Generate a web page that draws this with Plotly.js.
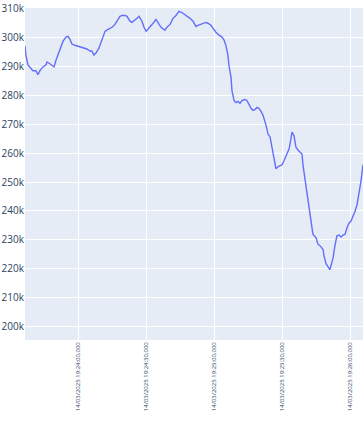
<!DOCTYPE html>
<html>
<head>
<meta charset="utf-8">
<script src="https://cdn.plot.ly/plotly-3.0.1.min.js"></script>
<style>html,body{margin:0;padding:0;background:#fff;}#chart{width:363px;height:424px;}</style>
</head>
<body>
<div id="chart"></div>
<script>
// seconds relative to 14/03/2025 19:24:00
const baseTime = "2025-03-14T19:24:00";
const offsetsSec = [-23.5,-23.1,-22.2,-21.3,-20.0,-18.7,-17.8,-16.9,-15.6,-14.2,-13.8,-12.5,-10.7,-9.8,-9.0,-7.6,-6.7,-5.4,-4.5,-3.7,-2.8,-1.5,-0.1,1.2,2.5,3.8,5.2,6.0,6.9,7.8,9.1,10.0,10.9,11.8,13.1,14.9,16.2,17.5,18.4,19.3,20.6,21.5,22.8,23.7,25.0,25.9,26.8,27.2,28.1,29.0,29.9,30.7,31.6,33.0,34.3,35.2,36.5,38.2,39.1,40.5,41.8,43.1,44.4,45.7,47.1,48.4,49.3,50.6,51.9,52.8,54.1,55.0,56.3,57.2,58.5,59.4,60.7,62.1,63.4,64.3,65.2,66.0,66.5,67.4,67.8,68.7,69.6,70.5,71.3,72.2,73.5,74.4,75.3,76.2,77.1,78.0,78.8,79.7,80.6,81.5,82.8,83.7,84.6,85.5,86.3,87.2,88.1,89.0,89.9,90.7,92.1,93.0,93.8,94.3,95.2,96.0,96.9,97.8,98.7,99.1,100.0,100.9,101.3,102.2,103.1,103.5,104.9,105.7,107.1,108.0,108.4,109.3,111.0,111.5,112.4,113.2,114.1,115.0,115.9,116.8,117.7,118.5,119.4,120.3,121.2,122.1,123.0,123.8,124.7,125.6];
const values = [297000,293900,290500,289500,288500,288500,287100,288500,289800,290500,291500,290900,289800,292200,293900,297000,298700,300100,300400,299400,297700,297300,297000,296700,296300,296000,295300,295300,293900,294600,296300,298400,300400,302100,302800,303500,304500,306200,307300,307600,307600,307300,305600,305200,305900,306600,307300,306900,305600,303500,302100,302800,303500,304900,306200,304900,303500,302500,303500,304500,306600,307600,309000,308600,307900,307300,306600,305600,303800,304200,304500,304900,305200,304900,304200,303200,301800,300800,300100,299100,297000,293900,290200,286100,281600,278200,277500,277900,277200,278200,278500,278200,276800,275500,274800,275100,275800,275500,274400,273100,269700,266600,265600,262100,258700,254600,255300,255600,256000,257300,259700,261500,264900,267300,265900,262100,261100,260400,259700,256000,250900,246100,242600,238900,234100,232000,230700,228600,227600,226600,224500,221800,219700,221100,223800,227900,231400,231700,231000,231700,232000,234100,235800,236500,238200,239900,242300,245700,250200,256000];
const yRange = [195400, 310170];

function pad(n, w){ return String(n).padStart(w || 2, "0"); }
const base = new Date(baseTime + "Z").getTime();
const times = offsetsSec.map(s => {
  const d = new Date(base + Math.round(s * 1000));
  return d.getUTCFullYear() + "-" + pad(d.getUTCMonth() + 1) + "-" + pad(d.getUTCDate()) + " " +
    pad(d.getUTCHours()) + ":" + pad(d.getUTCMinutes()) + ":" + pad(d.getUTCSeconds()) + "." + pad(d.getUTCMilliseconds(), 3);
});

const trace = {
  x: times, y: values, type: "scatter", mode: "lines",
  line: {color: "#636efa", width: 1.4}
};
const layout = {
  width: 363, height: 424,
  margin: {l: 25, r: 0, t: 8, b: 84, pad: 0},
  paper_bgcolor: "#ffffff", plot_bgcolor: "#E5ECF6",
  font: {family: "Open Sans, sans-serif", color: "#2a3f5f", size: 12},
  showlegend: false,
  xaxis: {
    type: "date", tickformat: "%d/%m/%Y %H:%M:%S,%L", dtick: 30000,
    tick0: "2025-03-14 19:24:00", tickangle: -90,
    tickfont: {size: 6, color: "#2a3f5f"},
    gridcolor: "#ffffff", gridwidth: 1, zeroline: false, showline: false, ticks: ""
  },
  yaxis: {
    range: yRange, dtick: 10000, tick0: 200000, tickformat: "~s",
    tickfont: {size: 10, color: "#2a3f5f"}, ticklabeloverflow: "allow",
    gridcolor: "#ffffff", gridwidth: 1, zeroline: false, showline: false, ticks: ""
  }
};
Plotly.newPlot("chart", [trace], layout, {displayModeBar: false, staticPlot: true});
</script>
</body>
</html>
